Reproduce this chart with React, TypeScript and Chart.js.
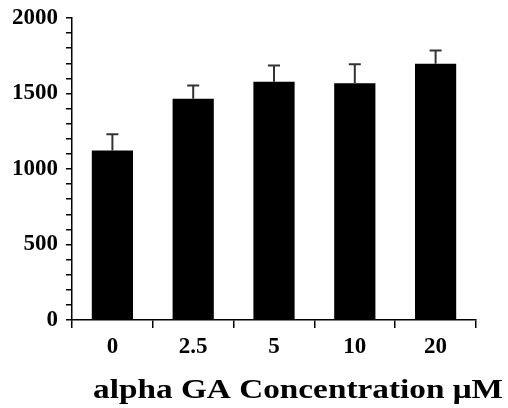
import React, { useEffect, useRef } from "react";
import { Chart, registerables } from "chart.js";

Chart.register(...registerables);

const categories = ["0", "2.5", "5", "10", "20"];
const means = [1122, 1465, 1577, 1568, 1697];
const errors = [108, 88, 108, 126, 88];
const yTicks = [0, 500, 1000, 1500, 2000];
const xTitle = "alpha GA Concentration \u03bcM";

const FONT = "'Liberation Serif', 'Times New Roman', Times, serif";

const errorBarPlugin = {
  id: "errorBars",
  afterDatasetsDraw(chart: any) {
    const meta = chart.getDatasetMeta(0);
    const yScale = chart.scales.y;
    const ctx = chart.ctx;
    ctx.save();
    ctx.strokeStyle = "#333";
    ctx.lineWidth = 2;
    meta.data.forEach((bar: any, i: number) => {
      const x = bar.x;
      const yTop = yScale.getPixelForValue(means[i]);
      const yErr = yScale.getPixelForValue(means[i] + errors[i]);
      ctx.beginPath();
      ctx.moveTo(x, yTop);
      ctx.lineTo(x, yErr);
      ctx.moveTo(x - 6, yErr);
      ctx.lineTo(x + 6, yErr);
      ctx.stroke();
    });
    ctx.restore();
  },
};

const titlePlugin = {
  id: "xTitleStretch",
  afterDraw(chart: any) {
    const ctx = chart.ctx;
    ctx.save();
    ctx.font = `bold 27px ${FONT}`;
    ctx.fillStyle = "#000";
    ctx.textBaseline = "alphabetic";
    ctx.textAlign = "center";
    const w = ctx.measureText(xTitle).width;
    const sx = 410 / w;
    ctx.translate(298, 398);
    ctx.scale(sx, 1);
    ctx.fillText(xTitle, 0, 0);
    ctx.restore();
  },
};

export default function App() {
  const ref = useRef<HTMLCanvasElement>(null);
  useEffect(() => {
    if (!ref.current) return;
    const chart = new Chart(ref.current, {
      type: "bar",
      data: {
        labels: categories,
        datasets: [
          {
            data: means,
            backgroundColor: "#000",
            borderWidth: 0,
            barPercentage: 0.51,
            categoryPercentage: 1,
          },
        ],
      },
      options: {
        animation: false,
        responsive: false,
        maintainAspectRatio: false,
        layout: { padding: { top: 18, right: 32, left: 0, bottom: 0 } },
        plugins: { legend: { display: false }, tooltip: { enabled: false }, title: { display: false } },
        scales: {
          x: {
            grid: { display: true, drawOnChartArea: false, drawTicks: true, tickLength: 8, color: "#000", lineWidth: 1.5, offset: true },
            border: { display: true, color: "#000", width: 1.5 },
            ticks: { color: "#000", font: { family: FONT, size: 23, weight: "bold" }, padding: 5, maxRotation: 0 },
            afterFit(scale: any) {
              scale.height = 88;
            },
          },
          y: {
            min: 0,
            max: 2000,
            grid: { display: true, drawOnChartArea: false, drawTicks: true, tickLength: 6, color: "#000", lineWidth: 1.5 },
            border: { display: true, color: "#000", width: 1.5 },
            ticks: {
              stepSize: 100,
              autoSkip: false,
              color: "#000",
              font: { family: FONT, size: 23, weight: "bold", lineHeight: 0.8 },
              padding: 8,
              callback: (v: any) => (yTicks.includes(Number(v)) ? String(v) : ""),
            },
            afterFit(scale: any) {
              scale.width = 72;
            },
          },
        },
      },
      plugins: [errorBarPlugin, titlePlugin],
    });
    let alive = true;
    if ((document as any).fonts && (document as any).fonts.load) {
      Promise.all([
        (document as any).fonts.load("bold 23px 'Liberation Serif'"),
        (document as any).fonts.load("bold 27px 'Liberation Serif'"),
      ]).then(() => {
        if (alive) chart.update();
      }).catch(() => {});
    }
    return () => {
      alive = false;
      chart.destroy();
    };
  }, []);
  return (
    <div style={{ position: "fixed", left: 0, top: 0, width: 508, height: 408, background: "#fff" }}>
      <canvas ref={ref} width={508} height={408} style={{ width: 508, height: 408 }} />
    </div>
  );
}
